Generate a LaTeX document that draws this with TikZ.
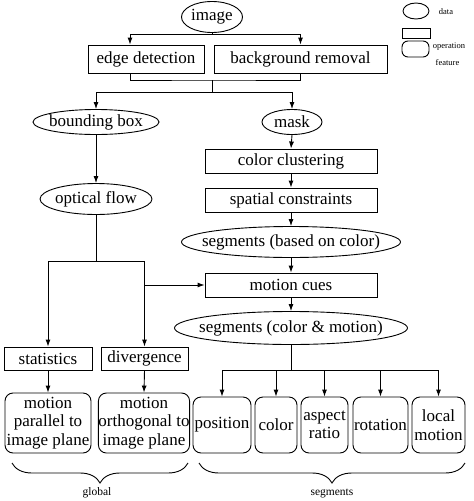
\documentclass[tikz,border=0pt]{standalone}
\usepackage{fontspec}
\setmainfont{Liberation Serif}
\usetikzlibrary{shapes}
\usetikzlibrary{arrows.meta}
\usetikzlibrary{decorations.pathreplacing}

\tikzset{
  base/.style={draw, line width=0.9pt, font=\fontsize{17}{18.5}\selectfont, align=center},
  data/.style={base, ellipse, inner xsep=-40pt, inner ysep=-4pt},
  oper/.style={base, rectangle, inner sep=0pt},
  feat/.style={base, rectangle, rounded corners=8pt, inner sep=0pt},
  wire/.style={line width=0.9pt},
  keytext/.style={font=\fontsize{8.5}{10}\selectfont},
  grouptext/.style={font=\fontsize{11.5}{13}\selectfont},
  >={Latex[length=7pt,width=5pt]}
}

\begin{document}
\begin{tikzpicture}[x=1pt, y=-1pt]
  \path[use as bounding box] (0, 0) rectangle (474, 501);

  % legend
  \node[data, minimum width=26pt, minimum height=16pt] (keydata) at (416, 11) {};
  \node[oper, minimum width=28pt, minimum height=10pt] (keyop) at (416, 33) {};
  \node[feat, rounded corners=6pt, minimum width=27pt, minimum height=16pt] (keyfeat) at (415.5, 49) {};
  \node[keytext] (keydatatext) at (446, 12) {data};
  \node[keytext] (keyoptext) at (449, 47) {operation};
  \node[keytext] (keyfeattext) at (447.5, 63) {feature};

  % top part
  \node[data, minimum width=61pt, minimum height=31pt] (img) at (212, 17) {image};
  \node[oper, minimum width=116pt, minimum height=28pt] (edge) at (146, 59) {edge detection};
  \node[oper, minimum width=173pt, minimum height=28pt] (bg) at (300.5, 59) {background removal};
  \node[data, minimum width=126pt, minimum height=25pt] (bbox) at (96, 122) {bounding box};
  \node[data, minimum width=60pt, minimum height=25pt] (mask) at (292, 122) {mask};

  % right column
  \node[oper, minimum width=172pt, minimum height=24pt] (clust) at (291, 161) {color clustering};
  \node[oper, minimum width=172pt, minimum height=24pt] (spat) at (291, 200) {spatial constraints};
  \node[data, minimum width=219pt, minimum height=31pt] (segcol) at (291, 242) {segments (based on color)};
  \node[oper, minimum width=172pt, minimum height=24pt] (cues) at (291, 285) {motion cues};
  \node[data, minimum width=233pt, minimum height=33pt] (segcm) at (291, 328) {segments (color \& motion)};

  % left column
  \node[data, minimum width=112pt, minimum height=31pt] (flow) at (96, 199) {optical flow};
  \node[oper, minimum width=88pt, minimum height=23pt] (stat) at (48, 358.5) {statistics};
  \node[oper, minimum width=87pt, minimum height=23pt] (div) at (144.5, 358.5) {divergence};

  % features
  \node[feat, minimum width=86pt, minimum height=60pt] (par) at (48, 423) {motion\\parallel to\\image plane};
  \node[feat, minimum width=88pt, minimum height=60pt] (orth) at (144, 423) {motion\\orthogonal to\\image plane};
  \node[feat, minimum width=58pt, minimum height=56pt] (pos) at (222, 425) {position};
  \node[feat, minimum width=42pt, minimum height=56pt] (col) at (276, 425) {color};
  \node[feat, minimum width=47pt, minimum height=56pt] (asp) at (324.5, 425) {aspect\\ratio};
  \node[feat, minimum width=55pt, minimum height=56pt] (rot) at (380.5, 425) {rotation};
  \node[feat, minimum width=53pt, minimum height=56pt] (loc) at (438.5, 425) {local\\motion};

  % connectors
  \draw[wire] (img.south) -- ++(0, 1.5) coordinate (top);
  \draw[wire, ->] (top) -| ([xshift=-16pt]edge.north);
  \draw[wire, ->] (top) -| (bg.north);
  \coordinate (merge) at (212, 80);
  \draw[wire] ([xshift=-16pt]edge.south) |- (merge) -| (bg.south);
  \draw[wire] (merge) -- ++(0, 12) coordinate (split);
  \draw[wire, ->] (split) -| (bbox.north);
  \draw[wire, ->] (split) -| (mask.north);

  \draw[wire, ->] (bbox.south) -- (flow.north);
  \draw[wire] (flow.south) -- ++(0, 46) coordinate (fork);
  \draw[wire, ->] (fork) -| (stat.north);
  \draw[wire, ->] (fork) -| (div.north);
  \draw[wire, ->] (div.north |- cues.west) -- (cues.west);
  \draw[wire, ->] (stat.south) -- (par.north);
  \draw[wire, ->] (div.south) -- (orth.north);

  \draw[wire, ->] (mask.south) -- (clust.north);
  \draw[wire, ->] (clust.south) -- (spat.north);
  \draw[wire, ->] (spat.south) -- (segcol.north);
  \draw[wire, ->] (segcol.south) -- (cues.north);
  \draw[wire, ->] (cues.south) -- (segcm.north);
  \draw[wire] (segcm.south) -- ++(0, 25) coordinate (spread);
  \foreach \f in {pos, col, asp, rot, loc}
    \draw[wire, ->] (spread) -| (\f.north);

  % groups
  \draw[wire, decorate, decoration={brace, mirror, amplitude=20pt}] (12, 463) -- (188, 463);
  \draw[wire, decorate, decoration={brace, mirror, amplitude=20pt}] (199, 463) -- (465, 463);
  \node[grouptext] (globaltext) at (97, 493) {global};
  \node[grouptext] (segtext) at (332, 493) {segments};
\end{tikzpicture}
\end{document}
